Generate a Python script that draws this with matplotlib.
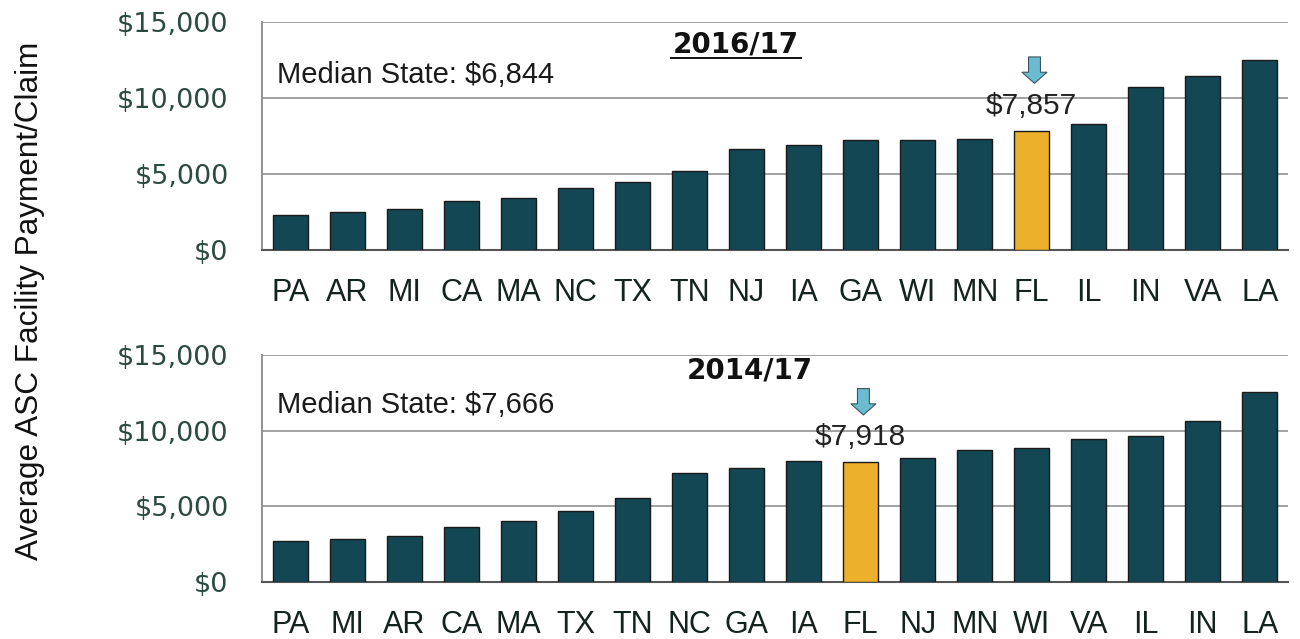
import matplotlib
matplotlib.use("Agg")
import matplotlib.pyplot as plt
from matplotlib.transforms import offset_copy
from matplotlib.ticker import FuncFormatter

# 2016/17 panel
states_a = ["PA", "AR", "MI", "CA", "MA", "NC", "TX", "TN", "NJ",
            "IA", "GA", "WI", "MN", "FL", "IL", "IN", "VA", "LA"]
values_a = [2300, 2500, 2700, 3200, 3400, 4080, 4470, 5200, 6640,
            6900, 7240, 7240, 7300, 7857, 8290, 10720, 11450, 12500]
median_a = "$6,844"

# 2014/17 panel
states_b = ["PA", "MI", "AR", "CA", "MA", "TX", "TN", "NC", "GA",
            "IA", "FL", "NJ", "MN", "WI", "VA", "IL", "IN", "LA"]
values_b = [2700, 2840, 3040, 3630, 4030, 4690, 5550, 7200, 7530,
            8000, 7918, 8200, 8720, 8860, 9450, 9650, 10640, 12560]
median_b = "$7,666"

highlight = "FL"
yticks = [0, 5000, 10000, 15000]

BAR = "#134753"
GOLD = "#ECB02A"
ARROW = "#6BBCD1"
TICKCOL = "#2B4A42"

plt.rcParams['font.family'] = ['Liberation Sans', 'DejaVu Sans']

fig = plt.figure(figsize=(13, 6.39), dpi=100)
ax1 = fig.add_axes([0.2015, 0.6088, 0.7895, 0.3568])
ax2 = fig.add_axes([0.2015, 0.0892, 0.7895, 0.3552])


def draw_panel(ax, states, values, title, median, title_pos, median_y, underline):
    colors = [GOLD if s == highlight else BAR for s in states]
    x = list(range(len(states)))
    ax.bar(x, values, width=0.62, color=colors, edgecolor="#1a1a1a", linewidth=1.0, zorder=3)
    ax.set_xlim(-0.5, len(states) - 0.5)
    ax.set_ylim(0, 15000)
    ax.set_yticks(yticks)
    ax.yaxis.set_major_formatter(FuncFormatter(lambda v, p: f"${v:,.0f}"))
    ax.set_xticks(x)
    ax.set_xticklabels(states)
    for lab in ax.get_yticklabels():
        lab.set_family('DejaVu Sans')
    ax.grid(axis="y", color="#9a9a9a", linewidth=1.3, zorder=0)
    ax.set_axisbelow(True)
    for s in ["top", "right"]:
        ax.spines[s].set_visible(False)
    ax.spines["left"].set_color("#8a8a8a")
    ax.spines["left"].set_linewidth(1.3)
    ax.spines["bottom"].set_color("#555555")
    ax.spines["bottom"].set_linewidth(1.5)
    ax.tick_params(axis="y", length=0, pad=24, labelsize=19.5, labelcolor=TICKCOL)
    ax.tick_params(axis="x", length=0, pad=20, labelsize=22, labelcolor="#14231f")

    ax.text(title_pos[0], title_pos[1], title, transform=ax.transAxes, ha="center", va="center",
            fontsize=20, fontweight="bold", color="#111111", family='DejaVu Sans')
    if underline:
        ax.plot([0.399, 0.525], [0.842, 0.842], transform=ax.transAxes,
                color="#111111", linewidth=1.4, clip_on=False)
    ax.text(0.015, median_y, f"Median State: {median}", transform=ax.transAxes,
            ha="left", va="center", fontsize=21, color="#1a1a1a")

    i = states.index(highlight)
    v = values[i]
    ax.annotate(f"${v:,.0f}", xy=(i, v), xytext=(0, 18), textcoords="offset points",
                ha="center", va="center", fontsize=21.5, color="#222222")
    tip = offset_copy(ax.transData, fig=fig, x=2, y=34, units="points")
    tail = offset_copy(ax.transData, fig=fig, x=2, y=53, units="points")
    ax.annotate("", xy=(i, v), xycoords=tip, xytext=(i, v), textcoords=tail,
                arrowprops=dict(arrowstyle="simple,head_length=0.4,head_width=0.9,tail_width=0.43",
                                mutation_scale=20, fc=ARROW, ec="#3a5560", lw=0.8,
                                shrinkA=0, shrinkB=0))


draw_panel(ax1, states_a, values_a, "2016/17", median_a, (0.462, 0.90), 0.768, True)
draw_panel(ax2, states_b, values_b, "2014/17", median_b, (0.475, 0.934), 0.78, False)

fig.text(0.023, 0.529, "Average ASC Facility Payment/Claim", rotation=90,
         ha="center", va="center", fontsize=22.7, color="#111111")

fig.savefig("out.png", dpi=100)
